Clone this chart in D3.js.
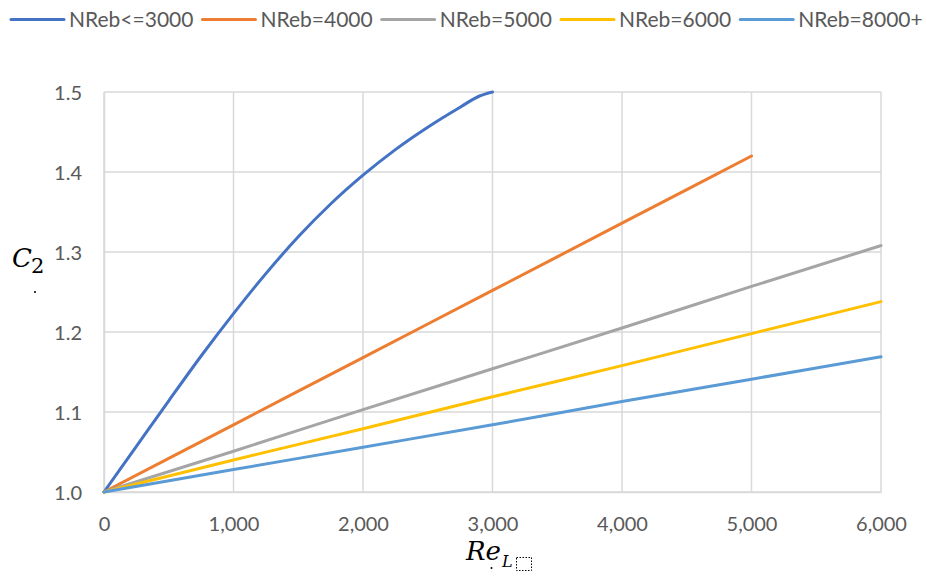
<!DOCTYPE html>
<html>
<head>
<meta charset="utf-8">
<script src="https://cdn.jsdelivr.net/npm/d3@7"></script>
<style>
  html, body { margin: 0; padding: 0; background: #fff; }
  svg { display: block; }
</style>
</head>
<body>
<svg id="chart" width="927" height="577"></svg>
<script>
// ---- data ----
const seriesNames = ["NReb<=3000", "NReb=4000", "NReb=5000", "NReb=6000", "NReb=8000+"];
const seriesColors = ["#4472C4", "#ED7D31", "#A5A5A5", "#FFC000", "#5B9BD5"];

const xBlue = [0, 250, 500, 750, 1000, 1250, 1500, 1750, 2000, 2250, 2500, 2750, 2900, 3000];
const yBlue = [1.0, 1.057, 1.114, 1.170, 1.223, 1.273, 1.319, 1.360, 1.396, 1.428, 1.456, 1.481, 1.495, 1.5];

const xLin = [0, 1000, 2000, 3000, 4000, 5000, 6000];
const yOrange = [1.0, 1.084, 1.168, 1.252, 1.336, 1.42];
const yGray = [1.0, 1.051, 1.103, 1.154, 1.205, 1.257, 1.308];
const yYellow = [1.0, 1.040, 1.079, 1.119, 1.158, 1.198, 1.238];
const yLightBlue = [1.0, 1.028, 1.056, 1.084, 1.113, 1.141, 1.169];

const xTicks = [0, 1000, 2000, 3000, 4000, 5000, 6000];
const yTicks = [1.0, 1.1, 1.2, 1.3, 1.4, 1.5];

// ---- build ----
const series = [
  xBlue.map((x, i) => [x, yBlue[i]]),
  yOrange.map((y, i) => [xLin[i], y]),
  yGray.map((y, i) => [xLin[i], y]),
  yYellow.map((y, i) => [xLin[i], y]),
  yLightBlue.map((y, i) => [xLin[i], y])
];

const svg = d3.select("#chart");
const pL = 104, pR = 881, pT = 92, pB = 492;

const x = d3.scaleLinear().domain([0, 6000]).range([pL, pR]);
const y = d3.scaleLinear().domain([1.0, 1.5]).range([pB, pT]);

const grid = "#d9d9d9";
const txt = "#595959";
const font = "Lato, 'Open Sans', sans-serif";

// gridlines
svg.append("g").selectAll("line").data(yTicks).join("line")
  .attr("x1", pL).attr("x2", pR)
  .attr("y1", d => y(d)).attr("y2", d => y(d))
  .attr("stroke", grid).attr("stroke-width", 1.5);
svg.append("g").selectAll("line").data(xTicks).join("line")
  .attr("x1", d => x(d)).attr("x2", d => x(d))
  .attr("y1", pT).attr("y2", pB)
  .attr("stroke", grid).attr("stroke-width", 1.5);

// axes (labels only)
const xAxis = d3.axisBottom(x).tickValues(xTicks).tickFormat(d3.format(",")).tickSize(0).tickPadding(0);
const gx = svg.append("g").attr("transform", `translate(0,${pB})`).call(xAxis);
gx.select(".domain").attr("stroke", grid).attr("stroke-width", 1.5);
gx.selectAll("text").attr("font-family", font).attr("font-size", 20).attr("fill", txt)
  .attr("dy", null).attr("y", 39);

const yAxis = d3.axisLeft(y).tickValues(yTicks).tickFormat(d3.format(".1f")).tickSize(0).tickPadding(0);
const gy = svg.append("g").attr("transform", `translate(${pL},0)`).call(yAxis);
gy.select(".domain").attr("stroke", grid).attr("stroke-width", 1.5);
gy.selectAll("text").attr("font-family", font).attr("font-size", 20).attr("fill", txt)
  .attr("x", -22).attr("dy", "0.35em");

// lines
const line = d3.line().x(d => x(d[0])).y(d => y(d[1])).curve(d3.curveMonotoneX);
svg.append("g").selectAll("path").data(series).join("path")
  .attr("d", line)
  .attr("fill", "none")
  .attr("stroke", (d, i) => seriesColors[i])
  .attr("stroke-width", 3)
  .attr("stroke-linejoin", "round")
  .attr("stroke-linecap", "round");

// legend
const lg = svg.append("g");
let lx = 11;
seriesNames.forEach((name, i) => {
  lg.append("line").attr("x1", lx).attr("x2", lx + 53).attr("y1", 19.5).attr("y2", 19.5)
    .attr("stroke", seriesColors[i]).attr("stroke-width", 3).attr("stroke-linecap", "round");
  const t = lg.append("text").attr("x", lx + 58).attr("y", 27)
    .attr("font-family", font).attr("font-size", 21).attr("fill", txt).text(name);
  lx += 58 + t.node().getComputedTextLength() + 9;
});

// y-axis title: C2
const serif = "'DejaVu Serif', 'Liberation Serif', serif";
const yt = svg.append("text").attr("x", 12).attr("y", 267)
  .attr("font-family", serif).attr("fill", "#000");
yt.append("tspan").attr("font-style", "italic").attr("font-size", 26).text("C");
yt.append("tspan").attr("font-size", 21).attr("dx", -1).attr("dy", 6).text("2");
svg.append("circle").attr("cx", 35).attr("cy", 292).attr("r", 1).attr("fill", "#000");

// x-axis title: Re_L
const xt = svg.append("text").attr("x", 466).attr("y", 560)
  .attr("font-family", serif).attr("font-style", "italic").attr("fill", "#000");
xt.append("tspan").attr("font-size", 26).text("Re");
xt.append("tspan").attr("font-size", 16).attr("dx", 1).attr("dy", 7).text("L");
svg.append("rect").attr("x", 516.5).attr("y", 557.5).attr("width", 15).attr("height", 13)
  .attr("fill", "none").attr("stroke", "#000").attr("stroke-width", 1).attr("stroke-dasharray", "1.5,1.5");
svg.append("circle").attr("cx", 491.5).attr("cy", 568).attr("r", 1).attr("fill", "#000");
</script>
</body>
</html>
